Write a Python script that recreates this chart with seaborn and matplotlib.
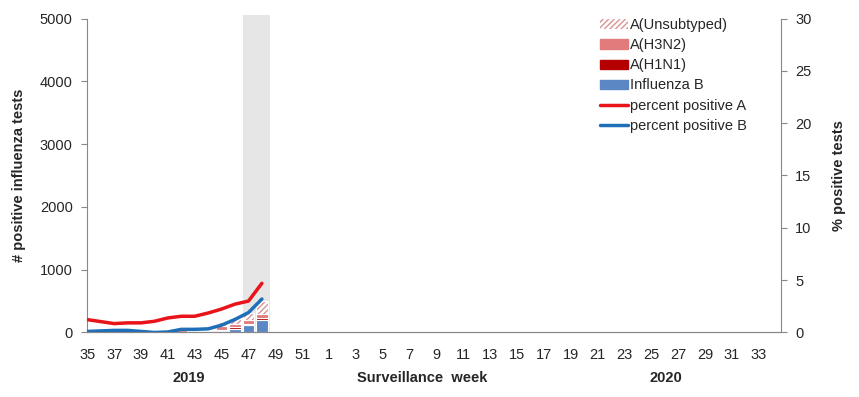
import numpy as np
import pandas as pd
import matplotlib
matplotlib.use("Agg")
import matplotlib.pyplot as plt
import seaborn as sns
from matplotlib.lines import Line2D
from matplotlib.patches import Patch

# surveillance weeks 2019/35 .. 2020/34
weeks = list(range(35, 53)) + list(range(1, 35))

# weekly counts (only weeks 35-48 reported so far)
unsubtyped = [2, 2, 3, 3, 5, 25, 20, 30, 35, 45, 73, 74, 105, 210]
h3n2 = [1, 1, 1, 1, 2, 10, 10, 30, 25, 25, 52, 58, 63, 65]
h1n1 = [0, 0, 0, 0, 1, 3, 2, 7, 10, 10, 25, 20, 25, 25]
infl_b = [0, 0, 1, 1, 2, 2, 3, 8, 10, 10, 20, 63, 115, 205]

pct_pos_a = [1.23, 1.04, 0.85, 0.92, 0.92, 1.07, 1.39, 1.55, 1.55, 1.86, 2.24, 2.71, 3.0, 4.7]
pct_pos_b = [0.1, 0.15, 0.2, 0.2, 0.1, 0.0, 0.05, 0.3, 0.3, 0.35, 0.7, 1.25, 1.9, 3.2]

n = len(unsubtyped)
idx = np.arange(n)

sns.set_style("white")
plt.rcParams['font.family'] = ['Liberation Sans', 'DejaVu Sans']
plt.rcParams['hatch.linewidth'] = 1.0
fs = 10.5

fig = plt.figure(figsize=(8.59, 3.97), dpi=100)
ax = fig.add_axes([0.1016, 0.1625, 0.8072, 0.7909])

# shaded current weeks
ax.axvspan(11.58, 13.59, ymax=1.01, color='#e6e6e6', zorder=0, lw=0, clip_on=False)

w = 0.85
bottom = np.zeros(n)
ax.bar(idx, infl_b, w, bottom=bottom, color='#5b87c5', edgecolor='white', lw=0.8, zorder=2)
bottom += infl_b
ax.bar(idx, h1n1, w, bottom=bottom, color='#b40000', edgecolor='white', lw=0.8, zorder=2)
bottom += h1n1
ax.bar(idx, h3n2, w, bottom=bottom, color='#e27b7b', edgecolor='white', lw=0.8, zorder=2)
bottom += h3n2
ax.bar(idx, unsubtyped, w, bottom=bottom, color='white', edgecolor='#d99494', hatch='//////', lw=0, zorder=2)
ax.bar(idx, unsubtyped, w, bottom=bottom, fill=False, edgecolor='white', lw=0.8, zorder=2)

ax.set_xlim(0, 51.62)
ax.set_ylim(0, 5000)
ax.set_yticks(range(0, 5001, 1000))
ax.set_xticks(np.arange(len(weeks)))
ax.set_xticklabels([str(wk) if i % 2 == 0 else '' for i, wk in enumerate(weeks)])
ax.set_ylabel('# positive influenza tests', fontsize=fs, fontweight='bold')
ax.yaxis.set_label_coords(-0.0884, 0.5)

ax2 = ax.twinx()
lines = pd.DataFrame({'x': np.concatenate([idx, idx]),
                      'pct': pct_pos_a + pct_pos_b,
                      'series': ['percent positive A'] * n + ['percent positive B'] * n})
sns.lineplot(data=lines, x='x', y='pct', hue='series',
             palette=['#e8141a', '#1f6fb8'], lw=2.5, ax=ax2, legend=False, zorder=3)
ax2.set_ylim(0, 30)
ax2.set_yticks(range(0, 31, 5))
ax2.set_xlim(0, 51.62)
ax2.set_ylabel('% positive tests', fontsize=fs, fontweight='bold')
ax2.yaxis.set_label_coords(1.074, 0.5)
ax2.set_xlabel('')

for a in (ax, ax2):
    for s in a.spines.values():
        s.set_color('#888888')
    a.spines['top'].set_visible(False)
    a.tick_params(direction='out', length=4, color='#888888', labelsize=fs, width=0.8, pad=6.5)
ax.spines['right'].set_visible(False)
ax2.spines['left'].set_visible(False)
ax.tick_params(axis='x', length=5, pad=6)

fig.text(0.2194, 0.0479, '2019', ha='center', va='center', fontsize=fs, fontweight='bold')
fig.text(0.4919, 0.0479, 'Surveillance  week', ha='center', va='center', fontsize=fs, fontweight='bold')
fig.text(0.7753, 0.0479, '2020', ha='center', va='center', fontsize=fs, fontweight='bold')

handles = [Patch(facecolor='white', edgecolor='#d99494', hatch='//////', lw=0),
           Patch(color='#e27b7b'), Patch(color='#b40000'), Patch(color='#5b87c5'),
           Line2D([], [], color='#e8141a', lw=2.5), Line2D([], [], color='#1f6fb8', lw=2.5)]
labels = ['A(Unsubtyped)', 'A(H3N2)', 'A(H1N1)', 'Influenza B',
          'percent positive A', 'percent positive B']
ax2.legend(handles, labels, loc='upper left', bbox_to_anchor=(0.731, 1.02), frameon=False,
           fontsize=fs, handlelength=1.9, handleheight=0.6, handletextpad=0.15,
           labelspacing=0.42, borderaxespad=0)

fig.savefig('out.png', dpi=100)
